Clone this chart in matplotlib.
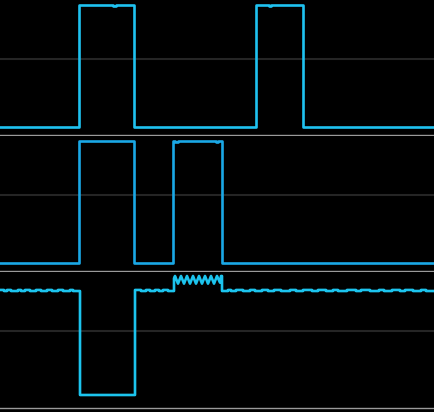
import matplotlib
matplotlib.use('Agg')
import matplotlib.pyplot as plt

# time axis (sample index) and channel levels
t_end = 434

# channel 1: two pulses, tiny notch on each top
ch1_edges = [0, 79, 113, 116, 134, 256, 269, 271, 303, t_end]
ch1_levels = [0, 1, 0.992, 1, 0, 1, 0.992, 1, 0]

# channel 2: two pulses, second one has small glitches on its top
ch2_edges = [0, 79, 134, 173, 175, 178, 216, 218, 222, t_end]
ch2_levels = [0, 1, 0, 1, 0.992, 1, 0.992, 1, 0]

# channel 3: baseline with small ripple, one negative pulse, ringing burst
ch3_t = [0, 4, 4, 7, 7, 11, 11, 18, 18, 21, 21, 25, 25, 30, 30, 36, 36, 41,
         41, 47, 47, 52, 52, 58, 58, 63, 63, 70, 70, 73, 73, 80,
         80, 135, 135, 141, 141, 146, 146, 150, 150, 155, 155, 159, 159, 163,
         163, 168, 168, 174,
         174, 175, 178, 181, 184, 187, 190, 193, 196, 199, 202, 205, 208, 211,
         214, 217, 220, 221, 222, 222,
         228, 228, 231, 231, 236, 236, 243, 243, 250, 250, 255, 255, 262, 262,
         268, 268, 274, 274, 281, 281, 290, 290, 296, 296, 303, 303, 312, 312,
         318, 318, 326, 326, 333, 333, 338, 338, 347, 347, 356, 356, 361, 361,
         370, 370, 379, 379, 384, 384, 392, 392, 400, 400, 405, 405, 413, 413,
         421, 421, 426, 426, t_end]
ch3_v = [0, 0, -0.01, -0.01, 0, 0, -0.01, -0.01, 0, 0, -0.01, -0.01, 0, 0,
         -0.01, -0.01, 0, 0, -0.01, -0.01, 0, 0, -0.01, -0.01, 0, 0, -0.01,
         -0.01, 0, 0, -0.01, -0.01,
         -1, -1, 0, 0, -0.01, -0.01, 0, 0, -0.01, -0.01, 0, 0, -0.01, -0.01,
         0, 0, -0.01, -0.01,
         0.11, 0.133, 0.06, 0.133, 0.06, 0.133, 0.06, 0.133, 0.06, 0.133, 0.06,
         0.133, 0.06, 0.133, 0.06, 0.133, 0.07, 0.133, 0.133, -0.01,
         -0.01, 0, 0, -0.01, -0.01, 0, 0, -0.01, -0.01, 0, 0, -0.01, -0.01, 0,
         0, -0.01, -0.01, 0, 0, -0.01, -0.01, 0, 0, -0.01, -0.01, 0, 0, -0.01,
         -0.01, 0, 0, -0.01, -0.01, 0, 0, -0.01, -0.01, 0, 0, -0.01, -0.01, 0,
         0, -0.01, -0.01, 0, 0, -0.01, -0.01, 0, 0, -0.01, -0.01, 0, 0, -0.01,
         -0.01, 0, 0, -0.01, -0.01]

grid_color = '#252525'
sep_color = '#9a9a9a'
line_w = 1.9

fig = plt.figure(figsize=(4.34, 4.12), dpi=100, facecolor='black')
H = 412.0

def make_ax(top_px, bot_px, ylim):
    ax = fig.add_axes([0, (H - bot_px) / H, 1, (bot_px - top_px) / H])
    ax.set_facecolor('black')
    ax.set_xlim(0, t_end)
    ax.set_ylim(*ylim)
    ax.axis('off')
    return ax

# channel 1
ax1 = make_ax(0, 136, (-0.074, 1.041))
ax1.axhline(0.557, color=grid_color, lw=1.5)
ax1.axhline(-0.066, color=sep_color, lw=1)
ax1.plot(ch1_edges, ch1_levels + [ch1_levels[-1]], drawstyle='steps-post',
         color='#1fc2f0', lw=line_w)

# channel 2
ax2 = make_ax(136, 272, (-0.074, 1.041))
ax2.axhline(0.557, color=grid_color, lw=1.5)
ax2.axhline(-0.066, color=sep_color, lw=1)
ax2.plot(ch2_edges, ch2_levels + [ch2_levels[-1]], drawstyle='steps-post',
         color='#1aa8e6', lw=line_w)

# channel 3
ax3 = make_ax(272, 412, (-1.162, 0.171))
ax3.axhline(-0.39, color=grid_color, lw=1.5)
ax3.axhline(-1.124, color=sep_color, lw=1)
ax3.plot(ch3_t, ch3_v, color='#1cc4ee', lw=line_w)

fig.savefig('out.png', dpi=100, facecolor='black')
